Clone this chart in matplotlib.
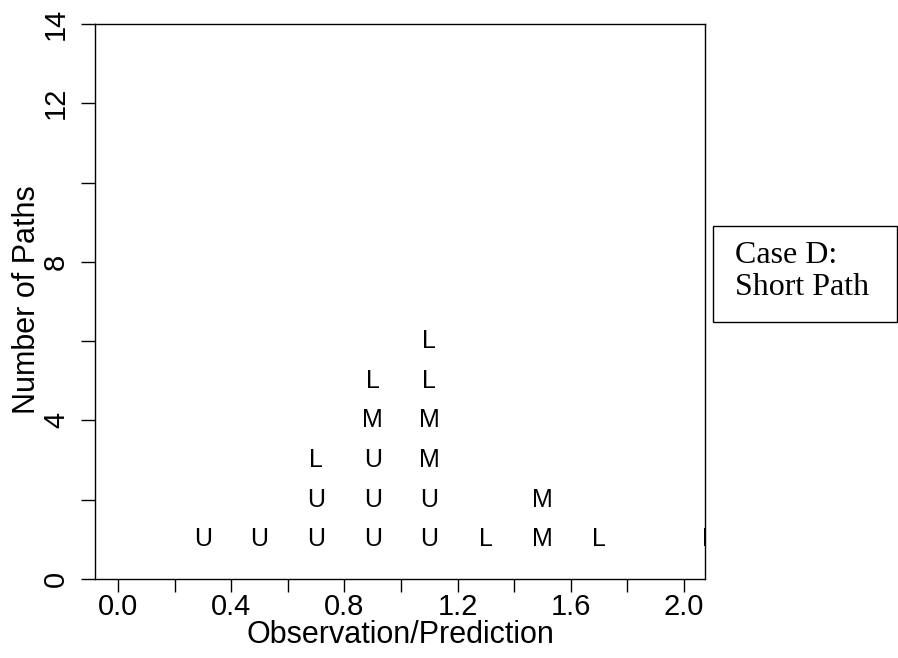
import matplotlib.pyplot as plt
from matplotlib.patches import Rectangle

# Observation/Prediction bins and number of paths per category (stacked U, M, L)
ratio = [0.3, 0.5, 0.7, 0.9, 1.1, 1.3, 1.5, 1.7, 2.1]
u_counts = [1, 1, 2, 3, 2, 0, 0, 0, 0]
m_counts = [0, 0, 0, 1, 2, 0, 2, 0, 1]
l_counts = [0, 0, 1, 1, 2, 1, 0, 1, 0]

x_ticks = [0.0, 0.2, 0.4, 0.6, 0.8, 1.0, 1.2, 1.4, 1.6, 1.8, 2.0]
x_labels = ["0.0", "", "0.4", "", "0.8", "", "1.2", "", "1.6", "", "2.0"]
y_ticks = [0, 2, 4, 6, 8, 10, 12, 14]
y_labels = ["0", "", "4", "", "8", "", "12", "14"]

plt.rcParams['font.family'] = ['Liberation Sans', 'DejaVu Sans']

fig = plt.figure(figsize=(8.98, 6.58), dpi=100)
ax = fig.add_axes([95 / 898, 79 / 658, 610 / 898, 555 / 658])

for x, nu, nm, nl in zip(ratio, u_counts, m_counts, l_counts):
    level = 1
    for letter, n in (("U", nu), ("M", nm), ("L", nl)):
        for _ in range(n):
            ax.text(x, level, letter, ha="center", va="center", fontsize=18,
                    clip_on=True)
            level += 1

ax.set_xlim(-0.0814, 2.074)
ax.set_ylim(0, 14)
ax.set_xticks(x_ticks)
ax.set_xticklabels(x_labels, fontsize=21)
ax.set_yticks(y_ticks)
ax.set_yticklabels(y_labels, fontsize=21, rotation=90, va="center")
ax.tick_params(axis="x", length=9, width=1, pad=1)
ax.tick_params(axis="y", length=10, width=1, pad=8)
for s in ax.spines.values():
    s.set_linewidth(1)

# axis titles
fig.text(400 / 898, (658 - 643) / 658, "Observation/Prediction", fontsize=22,
         ha="center", va="baseline")
fig.text(35 / 898, (658 - 300) / 658, "Number of Paths", fontsize=22,
         rotation=90, rotation_mode="anchor", ha="center", va="baseline")

# legend-like box outside the axes
fig.patches.append(Rectangle((713 / 898, (658 - 322) / 658), 184 / 898, 96 / 658,
                             transform=fig.transFigure, fill=False,
                             edgecolor="black", linewidth=1))
fig.text(735 / 898, (658 - 263) / 658, "Case D:",
         family="Liberation Serif", fontsize=23, va="baseline", ha="left")
fig.text(735 / 898, (658 - 295) / 658, "Short Path",
         family="Liberation Serif", fontsize=23, va="baseline", ha="left")

fig.savefig("out.png", dpi=100)
